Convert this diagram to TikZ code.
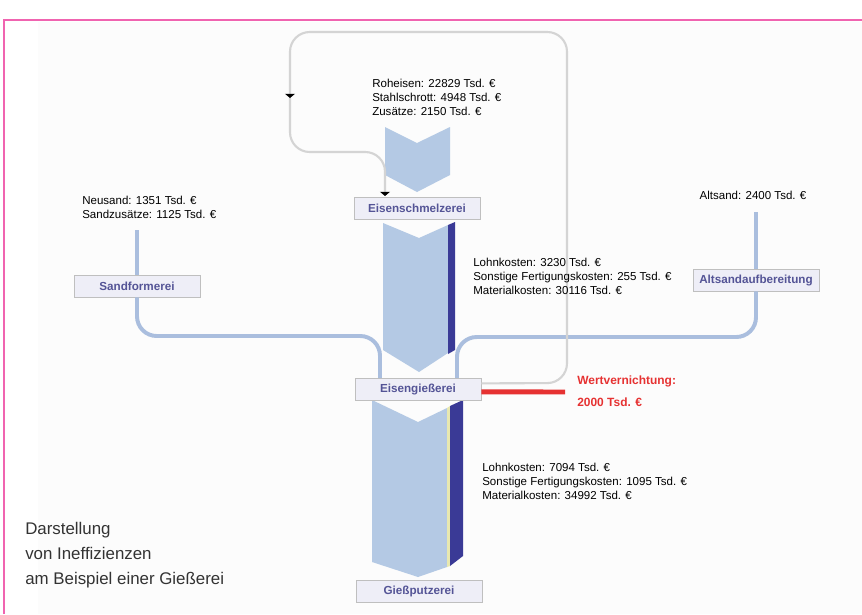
\documentclass[tikz,border=0pt]{standalone}
\usepackage{fontspec}
\setmainfont{Liberation Sans}
\usetikzlibrary{arrows.meta}

\definecolor{bandblue}{RGB}{180,201,228}
\definecolor{darkband}{RGB}{58,58,150}
\definecolor{boxtext}{RGB}{84,84,150}
\definecolor{boxfill}{RGB}{238,238,247}
\definecolor{flowblue}{RGB}{170,190,222}
\definecolor{loopgrey}{RGB}{212,212,212}
\definecolor{wertred}{RGB}{230,50,50}
\definecolor{framepink}{RGB}{240,100,176}
\definecolor{seam}{RGB}{232,232,176}

\begin{document}
\begin{tikzpicture}[x=0.025cm, y=-0.025cm,
  proc/.style={draw=black!25, fill=boxfill, minimum width=3.15cm, minimum height=0.55cm, inner sep=0pt, font=\fontsize{8.3}{9}\selectfont\bfseries, text=boxtext},
  info/.style={align=left, inner sep=0pt, font=\fontsize{8.2}{10}\selectfont},
  flow/.style={draw=flowblue, line width=2.8pt, rounded corners=14pt},
  back/.style={draw=loopgrey, line width=1.5pt, rounded corners=14pt},
  tip/.style={-{Triangle[width=7pt,length=3pt,color=black]}}]
\useasboundingbox (0,0) rectangle (862,614);

% Frame
\fill[black!1] (38,22) rectangle (862,614);
\draw[framepink, line width=1pt] (4,614) -- (4,20) -- (862,20);

% Bands
\fill[bandblue] (385,127) -- (417,143) -- (450,127) -- (450,175) -- (417,192) -- (385,175) -- cycle; % input
\fill[bandblue] (383,223) -- (419,238) -- (448,225) -- (448,353) -- (419,372) -- (383,350) -- cycle; % schmelz -> giess
\fill[darkband] (448,225) -- (455,222) -- (455,350) -- (448,354) -- cycle;
\fill[bandblue] (372,400) -- (418,422) -- (447,408) -- (447,567) -- (418,577) -- (372,562) -- cycle; % giess -> putz
\fill[seam] (447,408) -- (450,406) -- (450,566) -- (447,567) -- cycle;
\fill[darkband] (450,406) -- (463,400) -- (463,556) -- (450,566) -- cycle;

% Nodes
\node[proc] (schmelz) at (417,208) {Eisenschmelzerei};
\node[proc] (sand) at (137,286) {Sandformerei};
\node[proc] (alt) at (756,280) {Altsandaufbereitung};
\node[proc] (giess) at (418,389) {Eisengießerei};
\node[proc] (putz) at (419,591) {Gießputzerei};

% Links
\coordinate (sandtop) at (137,230);
\coordinate (sandin) at (380,378);
\coordinate (alttop) at (756,212);
\coordinate (altin2) at (457,378);
\coordinate (loopmid) at (290,98);
\coordinate (loopend) at (385,196);
\coordinate (wertend) at (565,392);

\draw[flow] (sandtop) -- (sand.north);
\draw[flow] (sand.south) -- (137,336) -- (380,336) -- (sandin);
\draw[flow] (alttop) -- (alt.north);
\draw[flow] (alt.south) -- (756,337) -- (457,337) -- (altin2);

\draw[back, tip] ([yshift=4pt]giess.east) -- (567,383) -- (567,32) -- (290,32) -- (loopmid);
\draw[back, tip] (loopmid) -- (290,152) -- (385,152) -- (loopend);

\draw[wertred, line width=3.5pt] ([yshift=-2pt]giess.east) -- (wertend);

% Texts
\node[info, anchor=north west] (roh) at (372,79) {Roheisen: 22829 Tsd. €\\Stahlschrott: 4948 Tsd. €\\Zusätze: 2150 Tsd. €};
\node[info, anchor=north west] (neu) at (82,196) {Neusand: 1351 Tsd. €\\Sandzusätze: 1125 Tsd. €};
\node[info] (altin) at (753,195) {Altsand: 2400 Tsd. €};
\node[info, anchor=north west] (lohna) at (473,258) {Lohnkosten: 3230 Tsd. €\\Sonstige Fertigungskosten: 255 Tsd. €\\Materialkosten: 30116 Tsd. €};
\node[info, anchor=north west] (lohnb) at (482,463) {Lohnkosten: 7094 Tsd. €\\Sonstige Fertigungskosten: 1095 Tsd. €\\Materialkosten: 34992 Tsd. €};
\node[anchor=west, align=left, inner sep=0pt, text=wertred, font=\fontsize{8.5}{15.6}\selectfont\bfseries] (wert) at (577,391) {Wertvernichtung:\\2000 Tsd. €};
\node[anchor=west, align=left, inner sep=0pt, text=black!80, font=\fontsize{12}{17.7}\selectfont] (caption) at (25,555) {Darstellung\\von Ineffizienzen\\am Beispiel einer Gießerei};

\end{tikzpicture}
\end{document}
